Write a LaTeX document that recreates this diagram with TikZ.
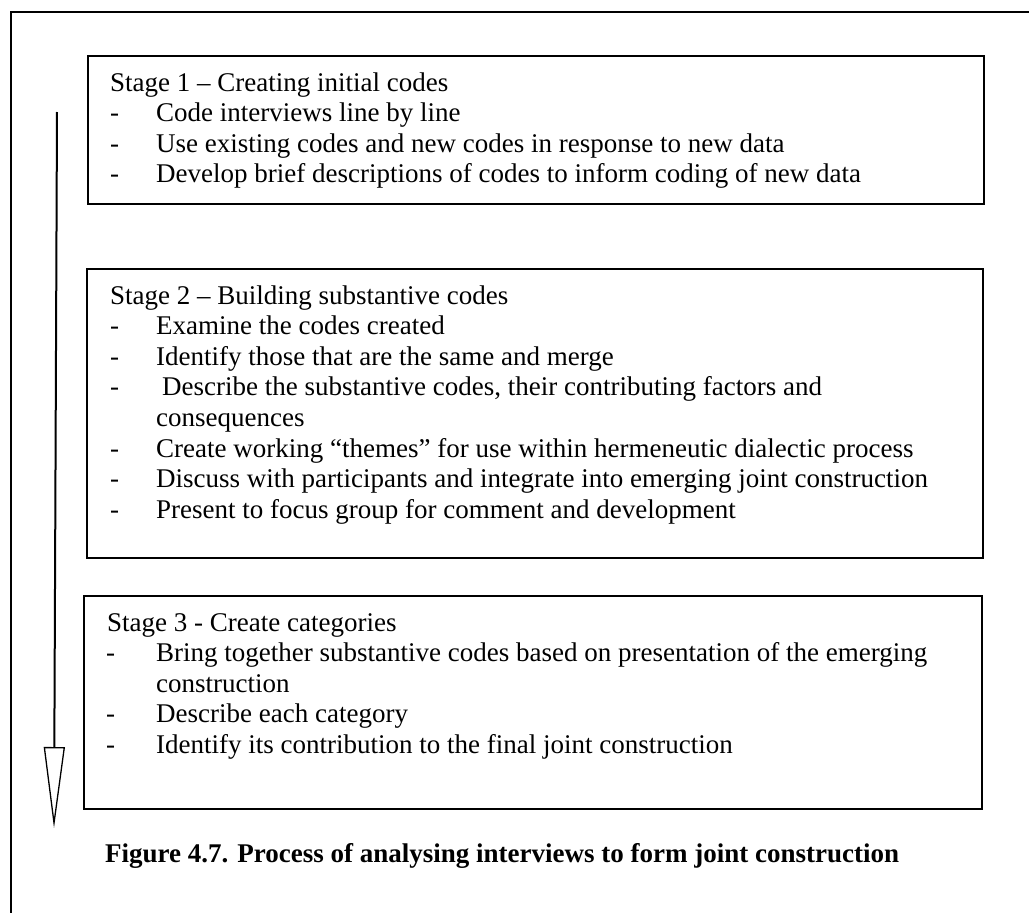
\documentclass[tikz,border=0pt]{standalone}
\usepackage{fontspec}
\setmainfont{Liberation Serif}
\usetikzlibrary{arrows.meta}
\begin{document}
\begin{tikzpicture}[x=1pt,y=-1pt,
  frame/.style={line width=2pt},
  stagebox/.style={draw, line width=2pt, anchor=north west, inner sep=0pt},
  txt/.style={anchor=base west, inner sep=0pt, font=\fontsize{27}{30.6}\selectfont},
  dashmark/.style={txt},
  caption/.style={anchor=base west, inner sep=0pt, font=\fontsize{27}{30.6}\selectfont\bfseries}]
\useasboundingbox (0,0) rectangle (1029,913);

% page frame (top and left rules)
\draw[frame] (11,913) -- (11,12) -- (1029,12);

% stage boxes
\node[stagebox, minimum width=896pt, minimum height=148pt] (box1) at (87,55) {};
\node[stagebox, minimum width=896pt, minimum height=289pt] (box2) at (86,268) {};
\node[stagebox, minimum width=898pt, minimum height=213pt] (box3) at (83,595) {};

% Stage 1
\node[txt] (s1) at (110,91) {Stage 1 – Creating initial codes};
\node[dashmark] (s1d1) at (110,121.6) {-};
\node[txt] (s1a) at (156,121.6) {Code interviews line by line};
\node[dashmark] (s1d2) at (110,152.2) {-};
\node[txt] (s1b) at (156,152.2) {Use existing codes and new codes in response to new data};
\node[dashmark] (s1d3) at (110,182.8) {-};
\node[txt] (s1c) at (156,182.8) {Develop brief descriptions of codes to inform coding of new data};

% Stage 2
\node[txt] (s2) at (110,304) {Stage 2 – Building substantive codes};
\node[dashmark] (s2d1) at (110,334.6) {-};
\node[txt] (s2a) at (156,334.6) {Examine the codes created};
\node[dashmark] (s2d2) at (110,365.2) {-};
\node[txt] (s2b) at (156,365.2) {Identify those that are the same and merge};
\node[dashmark] (s2d3) at (110,395.8) {-};
\node[txt] (s2c) at (162,395.8) {Describe the substantive codes, their contributing factors and};
\node[txt] (s2c2) at (156,426.4) {consequences};
\node[dashmark] (s2d4) at (110,457) {-};
\node[txt] (s2e) at (156,457) {Create working “themes” for use within hermeneutic dialectic process};
\node[dashmark] (s2d5) at (110,487.6) {-};
\node[txt] (s2f) at (156,487.6) {Discuss with participants and integrate into emerging joint construction};
\node[dashmark] (s2d6) at (110,518.2) {-};
\node[txt] (s2g) at (156,518.2) {Present to focus group for comment and development};

% Stage 3
\node[txt] (s3) at (107,631) {Stage 3 - Create categories};
\node[dashmark] (s3d1) at (106,661.6) {-};
\node[txt] (s3a) at (156,661.6) {Bring together substantive codes based on presentation of the emerging};
\node[txt] (s3a2) at (156,692.2) {construction};
\node[dashmark] (s3d2) at (106,722.8) {-};
\node[txt] (s3b) at (156,722.8) {Describe each category};
\node[dashmark] (s3d3) at (106,753.4) {-};
\node[txt] (s3c) at (156,753.4) {Identify its contribution to the final joint construction};

% caption
\node[caption] (cap) at (105,862) {Figure 4.7. Process of analysing interviews to form joint construction};

% process arrow
\coordinate (arrowtop) at (57,112);
\coordinate (arrowtip) at (54,828);
\draw[line width=2pt, -{Triangle[open, length=81pt, width=21pt, line width=1.3pt]}] (arrowtop) -- (arrowtip);
\end{tikzpicture}
\end{document}
